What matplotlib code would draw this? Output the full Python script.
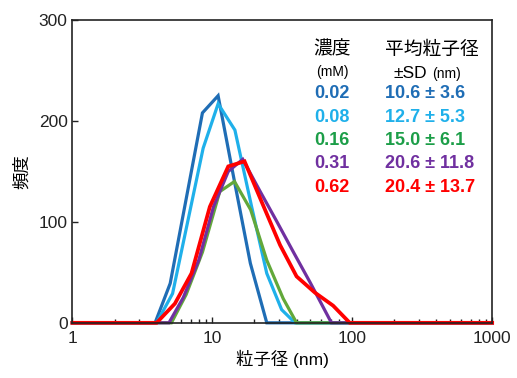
import matplotlib
matplotlib.use("Agg")
import matplotlib.pyplot as plt

plt.rcParams['font.family'] = ['Liberation Sans', 'Noto Sans CJK JP']

# 濃度ごとの粒径分布 (読み取り値)
conc = ["0.02", "0.08", "0.16", "0.31", "0.62"]
mean_sd = ["10.6 ± 3.6", "12.7 ± 5.3", "15.0 ± 6.1", "20.6 ± 11.8", "20.4 ± 13.7"]
colors = ["#1f6db5", "#1fb0ea", "#62a83a", "#7030a0", "#ff0000"]
text_colors = ["#1f6db5", "#1fb0ea", "#1c9e48", "#7030a0", "#ff0000"]

x_002 = [1, 3.9, 5.0, 8.5, 11.0, 14.4, 18.7, 24.5, 1000]
y_002 = [0, 0, 39, 208, 225, 140, 59, 0, 0]
x_008 = [1, 4.0, 5.2, 8.6, 11.0, 14.5, 19.1, 24.5, 31.3, 39, 1000]
y_008 = [0, 0, 29, 173, 217, 191, 115, 49, 13, 0, 0]
x_016 = [1, 5.1, 6.5, 8.5, 11.3, 14.4, 18.8, 24.5, 32.1, 40, 1000]
y_016 = [0, 0, 28, 70, 130, 140, 112, 62, 24, 0, 0]
x_031 = [1, 4.9, 6.2, 8.0, 10.2, 13.0, 16.5, 22, 29, 38, 50, 71, 1000]
y_031 = [0, 0, 25, 62, 115, 150, 162, 130, 100, 70, 40, 0, 0]
x_062 = [1, 4.0, 5.4, 7.1, 9.6, 13.0, 17.0, 22.5, 30.5, 40, 54, 73, 96, 1000]
y_062 = [0, 0, 19, 49, 115, 155, 160, 120, 77, 46, 30, 17, 0, 0]

xs = [x_002, x_008, x_016, x_031, x_062]
ys = [y_002, y_008, y_016, y_031, y_062]
widths = [2.3, 2.3, 2.3, 2.3, 2.7]

fig = plt.figure(figsize=(5.17, 3.78), dpi=100)
ax = fig.add_axes([0.140, 0.146, 0.812, 0.801])

for x, y, c, w in zip(xs, ys, colors, widths):
    ax.plot(x, y, color=c, lw=w, clip_on=False, solid_joinstyle='miter')

ax.set_xscale('log')
ax.set_xlim(1, 1000)
ax.set_ylim(0, 300)
ax.set_yticks([0, 100, 200, 300])
ax.set_xticks([1, 10, 100, 1000])
ax.set_xticklabels(["1", "10", "100", "1000"])
ax.tick_params(axis='both', which='both', direction='in', labelsize=12.5,
               colors='#222222', top=False, right=False)
ax.tick_params(axis='both', which='major', length=4, width=1)
ax.tick_params(axis='x', which='minor', length=3, width=1)
ax.tick_params(axis='x', pad=6)
for s in ax.spines.values():
    s.set_linewidth(1.2)
    s.set_color('#222222')

ax.set_xlabel("粒子径 (nm)", fontsize=12.5, labelpad=3)
ax.set_ylabel("頻度", fontsize=12.5, labelpad=6)

# 凡例代わりの表
tr = fig.transFigure
fx1 = 332 / 517
fx2 = 385 / 517
ax.text(fx1, 1 - 50 / 378, "濃度", transform=tr, ha='center', va='center',
        fontsize=13.5)
ax.text(fx1, 1 - 72 / 378, "(mM)", transform=tr, ha='center', va='center',
        fontsize=10)
ax.text(432 / 517, 1 - 50 / 378, "平均粒子径", transform=tr, ha='center',
        va='center', fontsize=13.5)
ax.text(427 / 517, 1 - 73 / 378, "±SD", transform=tr, ha='right',
        va='center', fontsize=12.5)
ax.text(432 / 517, 1 - 74 / 378, "(nm)", transform=tr, ha='left',
        va='center', fontsize=10)
for i, (c, m, tc) in enumerate(zip(conc, mean_sd, text_colors)):
    yy = 1 - (94 + 23.3 * i) / 378
    ax.text(fx1, yy, c, transform=tr, ha='center', va='center',
            fontsize=13, fontweight='bold', color=tc)
    ax.text(fx2, yy, m, transform=tr, ha='left', va='center',
            fontsize=13, fontweight='bold', color=tc)

fig.savefig("out.png", dpi=100)
